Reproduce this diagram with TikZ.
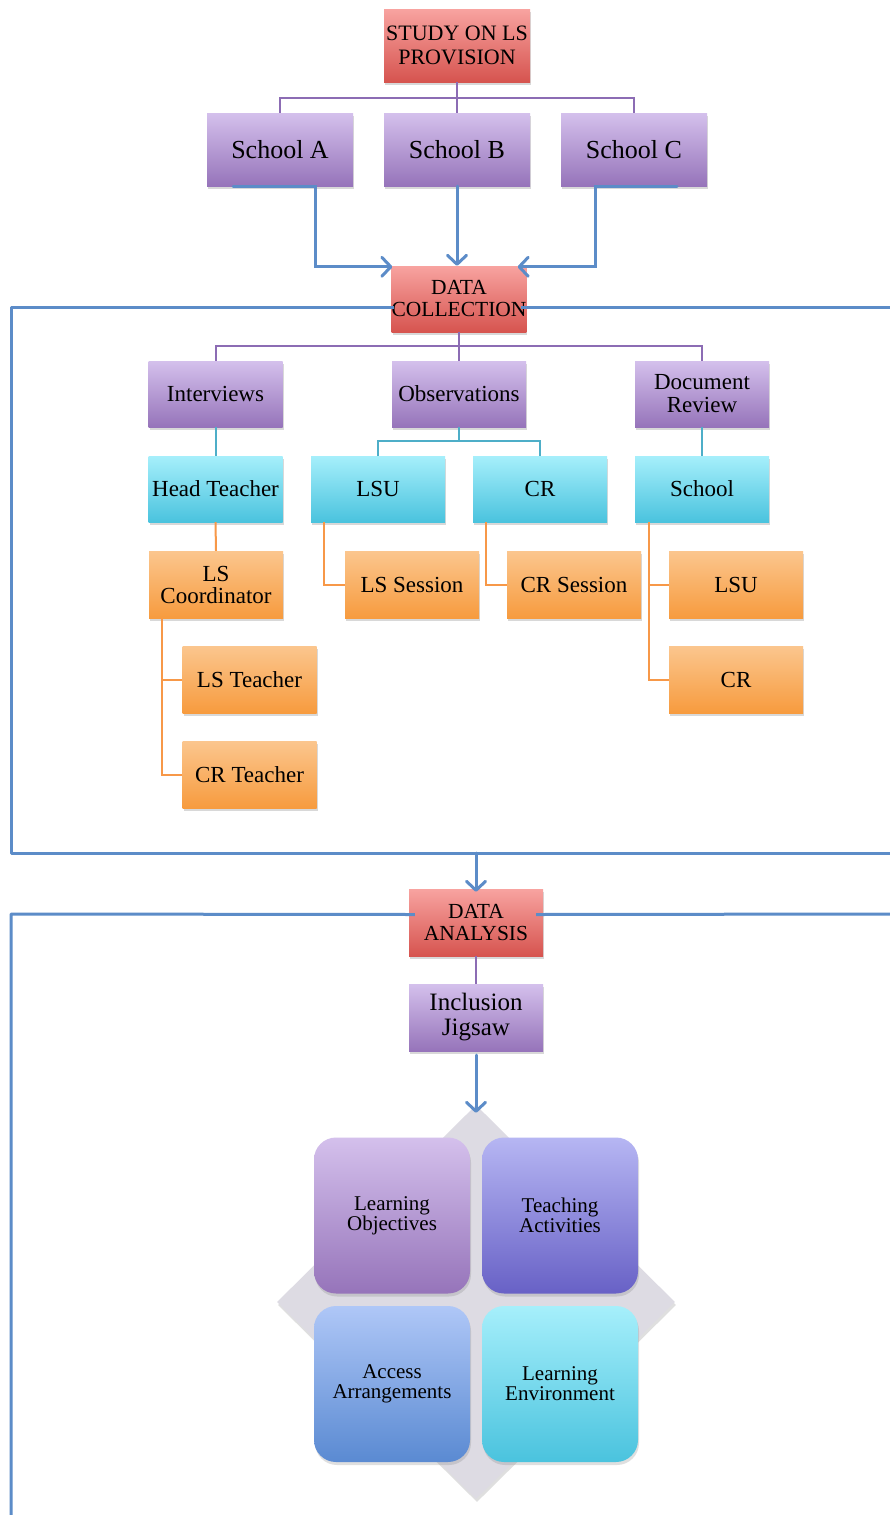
\documentclass[tikz,border=0pt]{standalone}
\usepackage{fontspec}
\setmainfont{Liberation Serif}
\usetikzlibrary{arrows.meta,calc,shadows,shapes.geometric}

\definecolor{redT}{RGB}{248,163,160}
\definecolor{redB}{RGB}{214,84,79}
\definecolor{purT}{RGB}{212,192,236}
\definecolor{purB}{RGB}{150,116,186}
\definecolor{tealT}{RGB}{166,239,251}
\definecolor{tealB}{RGB}{74,195,222}
\definecolor{orgT}{RGB}{251,198,142}
\definecolor{orgB}{RGB}{247,155,62}
\definecolor{taT}{RGB}{182,182,243}
\definecolor{taB}{RGB}{104,97,198}
\definecolor{aaT}{RGB}{175,199,247}
\definecolor{aaB}{RGB}{90,138,210}
\definecolor{diamondgray}{RGB}{221,219,227}
\definecolor{flowblue}{RGB}{92,140,200}
\definecolor{purline}{RGB}{140,108,180}
\definecolor{tealline}{RGB}{78,174,200}
\definecolor{orgline}{RGB}{247,152,72}

\begin{document}
\begin{tikzpicture}[x=1pt,y=-1pt,
  card/.style={rectangle, inner sep=0pt, align=center,
    minimum width=134pt, minimum height=67pt,
    drop shadow={shadow xshift=1pt, shadow yshift=-3pt, opacity=0.3}},
  redbox/.style={card, top color=redT, bottom color=redB,
    font=\fontsize{21.5}{22}\selectfont},
  purbox/.style={card, top color=purT, bottom color=purB,
    font=\fontsize{23}{23}\selectfont},
  tealbox/.style={card, top color=tealT, bottom color=tealB,
    font=\fontsize{23}{23}\selectfont},
  orgbox/.style={card, top color=orgT, bottom color=orgB,
    font=\fontsize{23}{22}\selectfont},
  tile/.style={rectangle, rounded corners=22pt, inner sep=0pt, align=center,
    minimum width=156pt, minimum height=156pt,
    font=\fontsize{21}{20}\selectfont,
    drop shadow={shadow xshift=1pt, shadow yshift=-3pt, opacity=0.25}},
  purconn/.style={draw=purline, line width=2pt},
  tealconn/.style={draw=tealline, line width=2pt},
  orgconn/.style={draw=orgline, line width=2pt},
  flowframe/.style={draw=flowblue, line width=3pt},
  flowarrow/.style={draw=flowblue, line width=3pt, line cap=round,
    -{Straight Barb[length=9pt,width=19pt,round]}},
]
\useasboundingbox (0,0) rectangle (889,1515);
\fill[white] (0,0) rectangle (889,1515);

% ---- top level ----
\node[redbox, minimum width=146pt, minimum height=73pt,
  font=\fontsize{22}{24}\selectfont] (study) at (457,45.5) {STUDY ON LS\\PROVISION};
\node[purbox, minimum width=146pt, minimum height=73pt,
  font=\fontsize{26}{26}\selectfont] (schA) at (280,149.5) {School A};
\node[purbox, minimum width=146pt, minimum height=73pt,
  font=\fontsize{26}{26}\selectfont] (schB) at (457,149.5) {School B};
\node[purbox, minimum width=146pt, minimum height=73pt,
  font=\fontsize{26}{26}\selectfont] (schC) at (634,149.5) {School C};

% ---- data collection ----
\node[redbox, minimum height=66pt] (dc) at (459,299) {DATA\\COLLECTION};

\node[purbox, minimum height=66pt] (int) at (215.5,394) {Interviews};
\node[purbox, minimum height=66pt] (obs) at (459,394) {Observations};
\node[purbox, minimum height=66pt] (doc) at (702,394) {Document\\Review};

\node[tealbox, minimum height=66pt] (ht) at (215.5,489) {Head Teacher};
\node[tealbox, minimum height=66pt] (lsu) at (378,489) {LSU};
\node[tealbox, minimum height=66pt] (cr) at (540,489) {CR};
\node[tealbox, minimum height=66pt] (school) at (702,489) {School};

\node[orgbox] (lsc) at (216,584.5) {LS\\Coordinator};
\node[orgbox] (lss) at (412,584.5) {LS Session};
\node[orgbox] (crs) at (574,584.5) {CR Session};
\node[orgbox] (lsu2) at (736,584.5) {LSU};
\node[orgbox] (lst) at (249.5,679.5) {LS Teacher};
\node[orgbox] (cr2) at (736,679.5) {CR};
\node[orgbox] (crt) at (249.5,774.5) {CR Teacher};

% ---- data analysis ----
\node[redbox] (da) at (476,922.5) {DATA\\ANALYSIS};
\node[purbox, font=\fontsize{25}{25}\selectfont] (ij) at (476,1017.5) {Inclusion\\Jigsaw};

% inclusion jigsaw: diamond backdrop and four tiles
\node[diamond, aspect=1, inner sep=0pt, minimum width=398pt, minimum height=394pt,
  fill=diamondgray,
  drop shadow={shadow xshift=1pt, shadow yshift=-3pt, opacity=0.25}] (jig) at (476,1302) {};
\node[tile, top color=purT, bottom color=purB] (lo) at (392,1215.5) {Learning\\Objectives};
\node[tile, top color=taT, bottom color=taB] (ta) at (560,1215.5) {Teaching\\Activities};
\node[tile, top color=aaT, bottom color=aaB] (aa) at (392,1384) {Access\\Arrangements};
\node[tile, top color=tealT, bottom color=tealB] (le) at (560,1384) {Learning\\Environment};

% ---- tree connectors ----
\draw[purconn] (study.south) -- ++(0,16) -| (schA.north);
\draw[purconn] (study.south) -- ++(0,16) -| (schC.north);
\draw[purconn] (study.south) -- (schB.north);

\draw[purconn] (dc.south) -- ++(0,14) -| (int.north);
\draw[purconn] (dc.south) -- ++(0,14) -| (doc.north);
\draw[purconn] (dc.south) -- (obs.north);

\draw[tealconn] (int.south) -- (ht.north);
\draw[tealconn] (obs.south) -- ++(0,14) -| (lsu.north);
\draw[tealconn] (obs.south) -- ++(0,14) -| (cr.north);
\draw[tealconn] (doc.south) -- (school.north);

\draw[orgconn] (ht.south) -- (lsc.north);
\draw[orgconn] ($(lsu.south west)+(13,0)$) |- (lss.west);
\draw[orgconn] ($(cr.south west)+(13,0)$) |- (crs.west);
\draw[orgconn] ($(school.south west)+(14,0)$) |- (lsu2.west);
\draw[orgconn] ($(school.south west)+(14,0)$) |- (cr2.west);
\draw[orgconn] ($(lsc.south west)+(13,0)$) |- (lst.west);
\draw[orgconn] ($(lsc.south west)+(13,0)$) |- (crt.west);

\draw[draw=purline, line width=1.3pt] (da.south) -- (ij.north);

% ---- flow arrows ----
\draw[flowarrow] ($(schA.south)+(-47,0)$) -- ($(schA.south)+(35,0)$)
  |- ($(dc.north west)+(1,1)$);
\draw[flowarrow] (schB.south) -- (schB.south |- dc.north);
\draw[flowarrow] ($(schC.south)+(43,0)$) -- ($(schC.south)+(-39,0)$)
  |- ($(dc.north east)+(-9,1)$);

% frame round the data collection stage
\coordinate (dcL) at (11,307);
\coordinate (dcBL) at (11,853);
\coordinate (dcBR) at (895,853);
\coordinate (dcR) at (895,307);
\coordinate (dcOut) at (476,853);
\draw[flowframe, line join=round] ($(dc.west)+(3,8)$) -- (dcL) -- (dcBL) -- (dcBR);
\draw[flowframe] ($(dc.east)+(-6,8)$) -- (dcR);
\draw[flowarrow] (dcOut) -- ($(da.north)+(0,3)$);

% frame round the data analysis stage
\coordinate (daL) at (11,914);
\coordinate (daBL) at (11,1525);
\coordinate (daR) at (895,914);
\draw[flowframe, line join=round] ($(da.west)+(6,-8)$) -- (daL) -- (daBL);
\draw[flowframe] ($(da.east)+(-7,-8)$) -- (daR);

\draw[flowarrow] ($(ij.south)+(0,4)$) -- ($(jig.north)+(0,8)$);
\end{tikzpicture}
\end{document}
